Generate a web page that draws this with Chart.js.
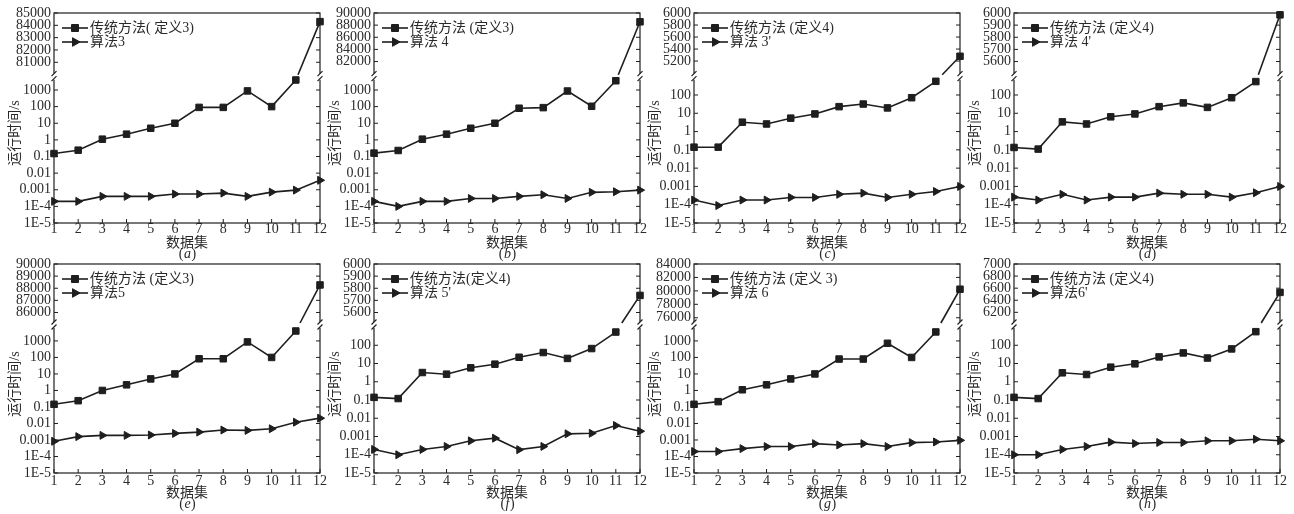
<!DOCTYPE html>
<html>
<head>
<meta charset="utf-8">
<script src="https://cdn.jsdelivr.net/npm/chart.js@4.4.1/dist/chart.umd.min.js"></script>
<style>
html, body { margin: 0; padding: 0; background: #fff; }
#wrap { position: relative; width: 1294px; height: 514px; overflow: hidden; }
#wrap canvas { position: absolute; }
</style>
</head>
<body>
<div id="wrap"></div>
<script>
'use strict';
// x categories and log-axis ticks shared by all panels
const dataSets = ['1', '2', '3', '4', '5', '6', '7', '8', '9', '10', '11', '12'];
const logTicks = [1e-5, 1e-4, 1e-3, 1e-2, 0.1, 1, 10, 100, 1000];
const logTickLabels = ['1E-5', '1E-4', '0.001', '0.01', '0.1', '1', '10', '100', '1000'];

// (a)
const tradA = [0.15, 0.24, 1.1, 2.2, 5, 10, 90, 90, 880, 100, 4000, 84300];
const algoA = [2e-4, 2e-4, 4e-4, 4e-4, 4e-4, 5.5e-4, 5.5e-4, 6.3e-4, 4e-4, 7.2e-4, 9.5e-4, 3.7e-3];
const topTicksA = [81000, 82000, 83000, 84000, 85000];
// (b)
const tradB = [0.16, 0.23, 1.1, 2.2, 5, 10, 80, 87, 870, 105, 3600, 88550];
const algoB = [2e-4, 1e-4, 2e-4, 2e-4, 3e-4, 3e-4, 4e-4, 5e-4, 3e-4, 7e-4, 7.6e-4, 9.5e-4];
const topTicksB = [82000, 84000, 86000, 88000, 90000];
// (c)
const tradC = [0.14, 0.14, 3.25, 2.6, 5.4, 9.2, 23, 32, 19.6, 71, 560, 5280];
const algoC = [1.8e-4, 9e-5, 1.8e-4, 1.8e-4, 2.5e-4, 2.5e-4, 3.7e-4, 4.3e-4, 2.5e-4, 3.7e-4, 5.3e-4, 1e-3];
const topTicksC = [5200, 5400, 5600, 5800, 6000];
// (d)
const tradD = [0.135, 0.11, 3.4, 2.6, 6.4, 9.2, 23, 37, 21, 71, 540, 5985];
const algoD = [2.6e-4, 1.8e-4, 3.7e-4, 1.8e-4, 2.6e-4, 2.6e-4, 4.3e-4, 3.7e-4, 3.7e-4, 2.6e-4, 4.5e-4, 1e-3];
const topTicksD = [5600, 5700, 5800, 5900, 6000];
// (e)
const tradE = [0.145, 0.24, 1, 2.2, 5, 10, 83, 83, 870, 100, 4000, 88270];
const algoE = [8.3e-4, 1.6e-3, 1.9e-3, 1.9e-3, 2e-3, 2.5e-3, 3e-3, 4e-3, 3.8e-3, 4.8e-3, 0.012, 0.021];
const topTicksE = [86000, 87000, 88000, 89000, 90000];
// (f)
const tradF = [0.14, 0.12, 3.2, 2.6, 5.8, 9.2, 22, 40, 19, 66, 530, 5741];
const algoF = [1.95e-4, 1e-4, 1.95e-4, 2.85e-4, 5.8e-4, 8.1e-4, 1.9e-4, 2.85e-4, 1.4e-3, 1.5e-3, 4e-3, 1.95e-3];
const topTicksF = [5600, 5700, 5800, 5900, 6000];
// (g)
const tradG = [0.145, 0.21, 1.1, 2.2, 5, 10, 80, 80, 720, 100, 3500, 80245];
const algoG = [2e-4, 2e-4, 3e-4, 4e-4, 4e-4, 6e-4, 5e-4, 6e-4, 4e-4, 6.9e-4, 7.6e-4, 9.5e-4];
const topTicksG = [76000, 78000, 80000, 82000, 84000];
// (h)
const tradH = [0.14, 0.12, 3.1, 2.5, 6.3, 9.6, 23, 38, 20, 63, 555, 6530];
const algoH = [1e-4, 1e-4, 1.95e-4, 2.85e-4, 4.9e-4, 4.1e-4, 4.7e-4, 4.7e-4, 5.8e-4, 5.8e-4, 7.1e-4, 5.8e-4];
const topTicksH = [6200, 6400, 6600, 6800, 7000];

const panels = [
	{ tag: 'a', trad: tradA, algo: algoA, topTicks: topTicksA, names: ['传统方法( 定义3)', '算法3'], topMin: 79830, topMax: 85000, lowMax: 6310 },
	{ tag: 'b', trad: tradB, algo: algoB, topTicks: topTicksB, names: ['传统方法 (定义3)', '算法 4'], topMin: 79500, topMax: 90000, lowMax: 6310 },
	{ tag: 'c', trad: tradC, algo: algoC, topTicks: topTicksC, names: ['传统方法 (定义4)', "算法 3'"], topMin: 4940, topMax: 6000, lowMax: 1000 },
	{ tag: 'd', trad: tradD, algo: algoD, topTicks: topTicksD, names: ['传统方法 (定义4)', "算法 4'"], topMin: 5475, topMax: 6000, lowMax: 1000 },
	{ tag: 'e', trad: tradE, algo: algoE, topTicks: topTicksE, names: ['传统方法 (定义3)', '算法5'], topMin: 84966, topMax: 90000, lowMax: 9220 },
	{ tag: 'f', trad: tradF, algo: algoF, topTicks: topTicksF, names: ['传统方法(定义4)', "算法 5'"], topMin: 5497, topMax: 6000, lowMax: 1290 },
	{ tag: 'g', trad: tradG, algo: algoG, topTicks: topTicksG, names: ['传统方法 (定义 3)', '算法 6'], topMin: 74920, topMax: 84000, lowMax: 9220 },
	{ tag: 'h', trad: tradH, algo: algoH, topTicks: topTicksH, names: ['传统方法 (定义4)', "算法6'"], topMin: 5990, topMax: 7000, lowMax: 1290 }
];

const ink = '#1e1e1e';
const textInk = '#2a2a2a';
const serif = "'Liberation Serif', 'Times New Roman', 'Noto Sans CJK SC', serif";

function marker(ctx, style, x, y) {
	ctx.save();
	ctx.fillStyle = ink;
	ctx.strokeStyle = ink;
	ctx.lineWidth = 1;
	ctx.beginPath();
	if (style === 'rect') {
		ctx.rect(x - 3.5, y - 3.5, 7, 7);
	} else {
		ctx.moveTo(x + 5, y);
		ctx.lineTo(x - 2.5, y - 4.3);
		ctx.lineTo(x - 2.5, y + 4.3);
		ctx.closePath();
	}
	ctx.fill();
	ctx.stroke();
	ctx.restore();
}

const deco = {
	id: 'deco',
	afterDatasetsDraw: function (chart) {
		// joins the last low point to the point above the axis break
		var ctx = chart.ctx, yTop = chart.scales.yTop;
		var low = chart.getDatasetMeta(0).data, high = chart.getDatasetMeta(1).data;
		var p = null, q = null;
		chart.data.datasets[0].data.forEach(function (v, i) { if (v != null) p = low[i]; });
		chart.data.datasets[1].data.forEach(function (v, i) { if (v != null) q = high[i]; });
		if (!p || !q) return;
		var ys = yTop.bottom - 2, sx = p.x, sy = p.y;
		if (p.y > ys) {
			var t = (p.y - ys) / (p.y - q.y);
			sx = p.x + (q.x - p.x) * t;
			sy = ys;
		}
		ctx.save();
		ctx.strokeStyle = ink;
		ctx.lineWidth = 1.6;
		ctx.beginPath();
		ctx.moveTo(sx, sy);
		ctx.lineTo(q.x, q.y);
		ctx.stroke();
		ctx.restore();
	},
	afterDraw: function (chart, args, o) {
		var ctx = chart.ctx, a = chart.chartArea;
		var yTop = chart.scales.yTop, yLow = chart.scales.yLow, x = chart.scales.x;
		var brk = yTop.bottom;
		ctx.save();
		ctx.strokeStyle = ink;
		ctx.lineWidth = 1.2;
		ctx.strokeRect(a.left, a.top, a.right - a.left, a.bottom - a.top);
		// inward ticks
		ctx.lineWidth = 1;
		ctx.beginPath();
		[yTop, yLow].forEach(function (s) {
			s.ticks.forEach(function (t) {
				var py = s.getPixelForValue(t.value);
				ctx.moveTo(a.left, py); ctx.lineTo(a.left + 4, py);
				ctx.moveTo(a.right, py); ctx.lineTo(a.right - 4, py);
			});
		});
		dataSets.forEach(function (c, i) {
			var px = x.getPixelForValue(i);
			ctx.moveTo(px, a.bottom); ctx.lineTo(px, a.bottom - 4);
		});
		ctx.stroke();
		// axis break marks
		[a.left, a.right].forEach(function (bx) {
			ctx.fillStyle = '#fff';
			ctx.fillRect(bx - 2, brk - 3, 4, 6);
			ctx.beginPath();
			ctx.lineWidth = 1.2;
			ctx.moveTo(bx - 2.5, brk - 0.5); ctx.lineTo(bx + 2.5, brk - 5.5);
			ctx.moveTo(bx - 2.5, brk + 4.5); ctx.lineTo(bx + 2.5, brk - 0.5);
			ctx.stroke();
		});
		// legend
		ctx.font = '14px ' + serif;
		ctx.textBaseline = 'middle';
		ctx.textAlign = 'left';
		ctx.fillStyle = textInk;
		[['rect', 15], ['tri', 29]].forEach(function (row, k) {
			var ly = a.top + row[1];
			ctx.beginPath();
			ctx.lineWidth = 1.6;
			ctx.moveTo(a.left + 8, ly); ctx.lineTo(a.left + 34, ly);
			ctx.stroke();
			marker(ctx, row[0], a.left + 21, ly);
			ctx.fillText(o.names[k], a.left + 36, ly + 0.5);
		});
		// axis titles
		var cx = (a.left + a.right) / 2;
		ctx.textAlign = 'center';
		ctx.fillText('数据集', cx, a.bottom + 20);
		var w1 = ctx.measureText('(').width;
		ctx.font = 'italic 14px ' + serif;
		var w2 = ctx.measureText(o.tag).width;
		var x0 = cx - (w1 * 2 + w2) / 2;
		ctx.textAlign = 'left';
		ctx.font = '14px ' + serif;
		ctx.fillText('(', x0, a.bottom + 31);
		ctx.fillText(')', x0 + w1 + w2 + 1, a.bottom + 31);
		ctx.font = 'italic 14px ' + serif;
		ctx.fillText(o.tag, x0 + w1 + 0.5, a.bottom + 31);
		ctx.font = '14px ' + serif;
		ctx.textAlign = 'center';
		ctx.translate(a.left - 39, a.top + 120);
		ctx.rotate(-Math.PI / 2);
		ctx.fillText('运行时间/s', 0, 0);
		ctx.restore();
	}
};

function build(p, idx) {
	var row = Math.floor(idx / 4), col = idx % 4;
	var cv = document.createElement('canvas');
	cv.width = 330;
	cv.height = 264;
	cv.style.left = col * 320 + 'px';
	cv.style.top = row * 250 + 'px';
	document.getElementById('wrap').appendChild(cv);

	var lowPart = p.trad.map(function (v) { return v > p.lowMax ? null : v; });
	var highPart = p.trad.map(function (v) { return v > p.lowMax ? v : null; });
	var lowTicks = logTicks.filter(function (v) { return v <= p.lowMax / 2; });
	var wTop = row === 0 ? 63.7 : 61, wLow = row === 0 ? 146.3 : 148;
	var tickFont = { family: serif, size: 14 };

	new Chart(cv, {
		type: 'line',
		data: {
			labels: dataSets,
			datasets: [
				{ data: lowPart, yAxisID: 'yLow', pointStyle: 'rect', pointRadius: 4.6 },
				{ data: highPart, yAxisID: 'yTop', pointStyle: 'rect', pointRadius: 4.6 },
				{ data: p.algo, yAxisID: 'yLow', pointStyle: 'triangle', pointRotation: 90, pointRadius: 4.6 }
			].map(function (d) {
				d.borderColor = ink;
				d.backgroundColor = ink;
				d.borderWidth = 1.6;
				d.pointBorderWidth = 1;
				d.tension = 0;
				d.clip = false;
				return d;
			})
		},
		options: {
			responsive: !1,
			animation: !1,
			devicePixelRatio: 1,
			layout: { padding: { left: 0, right: 10, top: row === 0 ? 13 : 14, bottom: 0 } },
			plugins: {
				legend: { display: !1 },
				tooltip: { enabled: !1 },
				deco: { names: p.names, tag: p.tag }
			},
			scales: {
				x: {
					type: 'category',
					offset: !1,
					grid: { display: !1, drawTicks: !1 },
					border: { display: !1 },
					ticks: { font: tickFont, color: textInk, padding: row === 0 ? -2 : 0, autoSkip: !1, maxRotation: 0 },
					afterFit: function (s) { s.height = 41; }
				},
				yLow: {
					type: 'logarithmic',
					position: 'left',
					stack: 'y',
					stackWeight: wLow,
					min: 1e-5,
					max: p.lowMax,
					bounds: 'data',
					grid: { display: !1, drawTicks: !1 },
					border: { display: !1 },
					afterBuildTicks: function (s) { s.ticks = lowTicks.map(function (v) { return { value: v }; }); },
					ticks: {
						font: tickFont, color: textInk, padding: 3, autoSkip: !1,
						callback: function (v) { return logTickLabels[logTicks.indexOf(v)]; }
					},
					afterFit: function (s) { s.width = 54; }
				},
				yTop: {
					type: 'linear',
					position: 'left',
					stack: 'y',
					stackWeight: wTop,
					min: p.topMin,
					max: p.topMax,
					bounds: 'data',
					grid: { display: !1, drawTicks: !1 },
					border: { display: !1 },
					afterBuildTicks: function (s) { s.ticks = p.topTicks.map(function (v) { return { value: v }; }); },
					ticks: {
						font: tickFont, color: textInk, padding: 3, autoSkip: !1,
						callback: function (v) { return String(v); }
					},
					afterFit: function (s) { s.width = 54; }
				}
			}
		},
		plugins: [deco]
	});
}

panels.forEach(build);
</script>
</body>
</html>
